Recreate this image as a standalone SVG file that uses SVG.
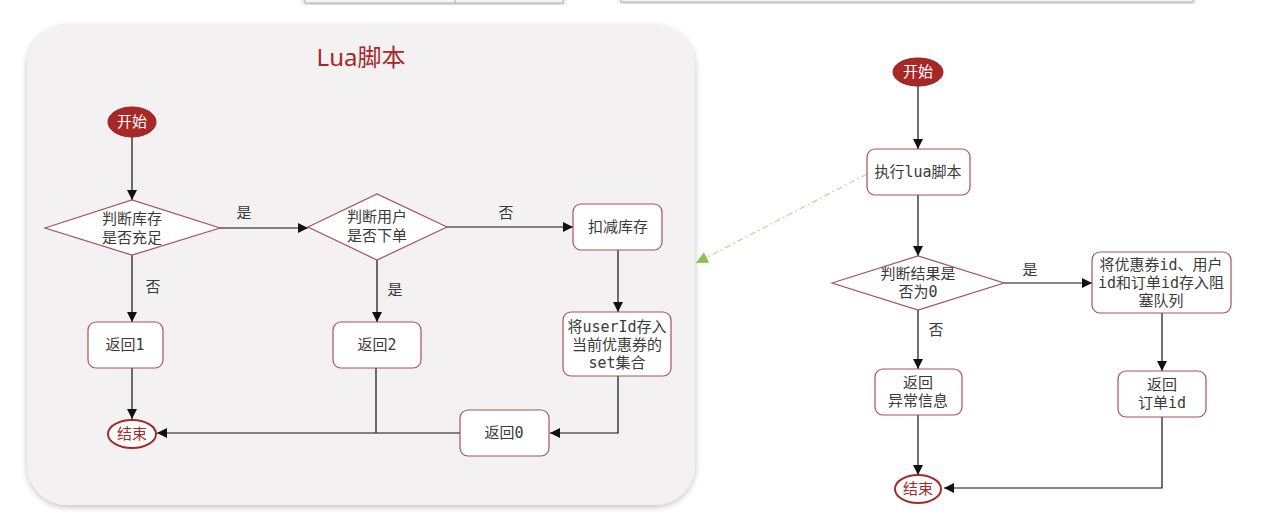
<svg xmlns="http://www.w3.org/2000/svg" width="1270" height="516" viewBox="0 0 1270 516">
<defs>
<style>
.box{fill:#ffffff;stroke:#a8525c;stroke-width:1.2}
.dia{fill:#ffffff;stroke:#a8525c;stroke-width:1.2}
.t{font-family:"DejaVu Sans Mono","Noto Sans CJK SC",monospace;font-size:15px;fill:#3a3a3a;text-anchor:middle}
.lbl{font-family:"Noto Sans CJK SC",sans-serif;font-size:15px;fill:#3a3a3a;text-anchor:middle}
.st{fill:#a82828;stroke:#8e1f1f;stroke-width:1}
.sttext{font-family:"Noto Sans CJK SC",sans-serif;font-size:15px;fill:#ffffff;text-anchor:middle}
.end{fill:#ffffff;stroke:#a82828;stroke-width:2}
.endtext{font-family:"Noto Sans CJK SC",sans-serif;font-size:15px;fill:#a82828;text-anchor:middle}
.ln{fill:none;stroke:#111111;stroke-width:1.2}
</style>
<marker id="ah" viewBox="0 0 10 10" refX="10" refY="5" markerWidth="10" markerHeight="10" markerUnits="userSpaceOnUse" orient="auto">
<path d="M0,0 L10,5 L0,10 z" fill="#111111"/>
</marker>
<marker id="gah" viewBox="0 0 10 10" refX="10" refY="5" markerWidth="12" markerHeight="12" markerUnits="userSpaceOnUse" orient="auto">
<path d="M0,0 L10,5 L0,10 z" fill="#8cc152"/>
</marker>
<filter id="sh" x="-10%" y="-10%" width="120%" height="120%">
<feGaussianBlur in="SourceAlpha" stdDeviation="3"/>
<feOffset dx="0" dy="2"/>
<feComponentTransfer><feFuncA type="linear" slope="0.25"/></feComponentTransfer>
<feMerge><feMergeNode/><feMergeNode in="SourceGraphic"/></feMerge>
</filter>
</defs>
<rect width="1270" height="516" fill="#ffffff"/>
<!-- top remnants -->
<g id="remnants">
<rect x="305" y="-10" width="258" height="13" fill="#f4f4f4" stroke="#b0b0b0" stroke-width="1" filter="url(#sh)"/>
<line x1="455" y1="-2" x2="455" y2="3" stroke="#b0b0b0"/>
<rect x="621" y="-10" width="572" height="12" fill="#f4f4f4" stroke="#b0b0b0" stroke-width="1" filter="url(#sh)"/>
</g>
<!-- Lua panel -->
<g id="lua-panel">
<rect x="27" y="25" width="668" height="480" rx="40" ry="40" fill="#f3f1f2" filter="url(#sh)"/>
<text x="361" y="66" font-family="'Noto Sans','Noto Sans CJK SC',sans-serif" font-size="24" fill="#a82828" text-anchor="middle">Lua脚本</text>
</g>
<!-- connectors -->
<g id="connectors">
<path class="ln" d="M132,137 L132,200" marker-end="url(#ah)"/>
<path class="ln" d="M220,228 L308,228" marker-end="url(#ah)"/>
<path class="ln" d="M447,227 L573,227" marker-end="url(#ah)"/>
<path class="ln" d="M618,250 L618,312" marker-end="url(#ah)"/>
<path class="ln" d="M618,376 L618,433 L550,433" marker-end="url(#ah)"/>
<path class="ln" d="M460,433 L157,433" marker-end="url(#ah)"/>
<path class="ln" d="M132,255 L132,322" marker-end="url(#ah)"/>
<path class="ln" d="M132,368 L132,419" marker-end="url(#ah)"/>
<path class="ln" d="M377,260 L377,322" marker-end="url(#ah)"/>
<path class="ln" d="M376,368 L376,433"/>
<path class="ln" d="M918,86 L918,149" marker-end="url(#ah)"/>
<path class="ln" d="M918,195 L918,256" marker-end="url(#ah)"/>
<path class="ln" d="M1004,283 L1092,283" marker-end="url(#ah)"/>
<path class="ln" d="M1162,313 L1162,371" marker-end="url(#ah)"/>
<path class="ln" d="M1162,417 L1162,488 L944,488" marker-end="url(#ah)"/>
<path class="ln" d="M918,310 L918,369" marker-end="url(#ah)"/>
<path class="ln" d="M918,415 L918,475" marker-end="url(#ah)"/>
<path d="M867,174 L696,263" fill="none" stroke="#cfcc9e" stroke-width="1.2" stroke-dasharray="6,3,2,3" marker-end="url(#gah)"/>
<text class="lbl" x="244" y="218">是</text>
<text class="lbl" x="506" y="218">否</text>
<text class="lbl" x="153" y="292">否</text>
<text class="lbl" x="395" y="295">是</text>
<text class="lbl" x="1030" y="275">是</text>
<text class="lbl" x="936" y="335">否</text>
</g>
<!-- Left nodes -->
<g id="start1"><ellipse class="st" cx="132" cy="122" rx="24" ry="15"/><text class="sttext" x="132" y="127">开始</text></g>
<g id="check-stock"><polygon class="dia" points="45,228 132,200 220,228 132,255"/><text class="t" x="132" y="224">判断库存</text><text class="t" x="132" y="243">是否充足</text></g>
<g id="check-user"><polygon class="dia" points="308,227 377,194 447,227 377,260"/><text class="t" x="377" y="222">判断用户</text><text class="t" x="377" y="241">是否下单</text></g>
<g id="deduct"><rect class="box" x="573" y="204" width="89" height="46" rx="8"/><text class="t" x="618" y="232">扣减库存</text></g>
<g id="save-user"><rect class="box" x="563" y="312" width="108" height="64" rx="8"/><text class="t" x="617" y="332">将userId存入</text><text class="t" x="617" y="350">当前优惠券的</text><text class="t" x="617" y="368">set集合</text></g>
<g id="ret0"><rect class="box" x="460" y="410" width="89" height="46" rx="8"/><text class="t" x="504" y="438">返回0</text></g>
<g id="ret1"><rect class="box" x="88" y="322" width="75" height="46" rx="8"/><text class="t" x="125" y="350">返回1</text></g>
<g id="ret2"><rect class="box" x="333" y="322" width="88" height="46" rx="8"/><text class="t" x="377" y="350">返回2</text></g>
<g id="end1"><ellipse class="end" cx="132" cy="434" rx="24" ry="14"/><text class="endtext" x="132" y="439">结束</text></g>
<!-- Right nodes -->
<g id="start2"><ellipse class="st" cx="918" cy="72" rx="25" ry="14"/><text class="sttext" x="918" y="77">开始</text></g>
<g id="exec-lua"><rect class="box" x="867" y="149" width="103" height="46" rx="8"/><text class="t" x="918" y="177">执行lua脚本</text></g>
<g id="check-result"><polygon class="dia" points="832,283 918,256 1004,283 918,310"/><text class="t" x="918" y="279">判断结果是</text><text class="t" x="918" y="297">否为0</text></g>
<g id="enqueue"><rect class="box" x="1092" y="252" width="139" height="61" rx="8"/><text class="t" x="1161" y="270">将优惠券id、用户</text><text class="t" x="1161" y="288">id和订单id存入阻</text><text class="t" x="1161" y="306">塞队列</text></g>
<g id="ret-order"><rect class="box" x="1118" y="371" width="88" height="46" rx="8"/><text class="t" x="1162" y="390">返回</text><text class="t" x="1162" y="408">订单id</text></g>
<g id="ret-err"><rect class="box" x="875" y="369" width="87" height="46" rx="8"/><text class="t" x="918" y="388">返回</text><text class="t" x="918" y="406">异常信息</text></g>
<g id="end2"><ellipse class="end" cx="918" cy="489" rx="23" ry="14"/><text class="endtext" x="918" y="494">结束</text></g>
</svg>
